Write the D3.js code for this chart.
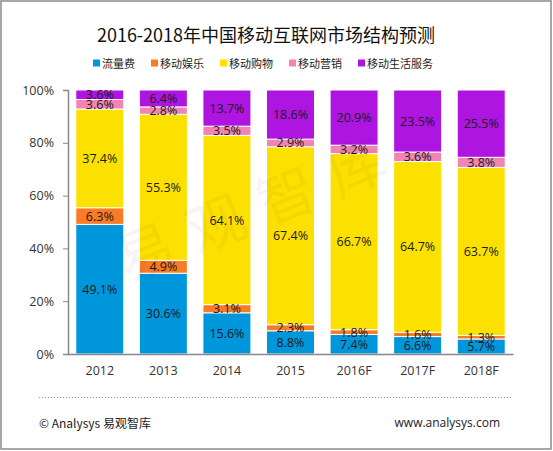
<!DOCTYPE html>
<html>
<head>
<meta charset="utf-8">
<script src="https://cdn.jsdelivr.net/npm/d3@7"></script>
<style>
  html, body { margin: 0; padding: 0; background: #fff; }
  svg { display: block; }
  text { font-family: "Open Sans", "Noto Sans CJK SC", sans-serif; }
</style>
</head>
<body>
<svg id="chart" width="553" height="451"></svg>
<script>
const categories = ["2012", "2013", "2014", "2015", "2016F", "2017F", "2018F"];
const seriesNames = ["流量费", "移动娱乐", "移动购物", "移动营销", "移动生活服务"];
const seriesColors = ["#0096DC", "#FA7B24", "#FCE100", "#F184B0", "#AE15E0"];
const flowFee      = [49.1, 30.6, 15.6, 8.8, 7.4, 6.6, 5.7];
const entertainment = [6.3, 4.9, 3.1, 2.3, 1.8, 1.6, 1.3];
const shopping     = [37.4, 55.3, 64.1, 67.4, 66.7, 64.7, 63.7];
const marketing    = [3.6, 2.8, 3.5, 2.9, 3.2, 3.6, 3.8];
const lifeService  = [3.6, 6.4, 13.7, 18.6, 20.9, 23.5, 25.5];
const yTicks = [0, 20, 40, 60, 80, 100];
const titleText = "2016-2018年中国移动互联网市场结构预测";
const watermarkText = "易观智库";
const footerLeft = "© Analysys 易观智库";
const footerRight = "www.analysys.com";

const seriesValues = [flowFee, entertainment, shopping, marketing, lifeService];
const table = categories.map((c, i) => {
  const row = { cat: c };
  seriesNames.forEach((s, j) => row[s] = seriesValues[j][i]);
  return row;
});
const stacked = d3.stack().keys(seriesNames)(table);

const svg = d3.select("#chart");

// border
svg.append("rect").attr("x", 1).attr("y", 1).attr("width", 550).attr("height", 448)
  .attr("fill", "#fff").attr("stroke", "#8a8a8a").attr("stroke-width", 1.5);

const x = d3.scaleBand().domain(categories).range([68, 513]).paddingInner(0.245).paddingOuter(0.1225);
const y = d3.scaleLinear().domain([0, 100]).range([354, 90]);

// bars
const g = svg.append("g");
g.selectAll("g.series").data(stacked).join("g")
  .attr("class", "series")
  .attr("fill", (d, i) => seriesColors[i])
  .selectAll("rect").data(d => d).join("rect")
  .attr("x", d => x(d.data.cat))
  .attr("width", x.bandwidth())
  .attr("y", d => y(d[1]))
  .attr("height", d => y(d[0]) - y(d[1]))
  .attr("stroke", "#fff").attr("stroke-width", 1);

// watermark
svg.append("text")
  .attr("transform", "translate(258,203) rotate(-22)")
  .attr("text-anchor", "middle").attr("dominant-baseline", "central")
  .attr("font-size", 58).attr("letter-spacing", 18)
  .attr("fill", "#000").attr("fill-opacity", 0.04)
  .style("font-family", "'Noto Sans CJK SC'")
  .text(watermarkText);

// labels
const lg = svg.append("g");
stacked.forEach((s) => {
  lg.selectAll(null).data(s).join("text")
    .attr("x", d => x(d.data.cat) + x.bandwidth() / 2)
    .attr("y", d => (y(d[0]) + y(d[1])) / 2)
    .attr("text-anchor", "middle").attr("dominant-baseline", "central")
    .attr("font-size", 12.5).attr("fill", "#1a1a1a")
    .text(d => d3.format(".1f")(d[1] - d[0]) + "%");
});

// y axis
const yAxis = svg.append("g").attr("transform", "translate(68,0)")
  .call(d3.axisLeft(y).tickValues(yTicks).tickFormat(d => d + "%").tickSize(5).tickPadding(9));
yAxis.select(".domain").attr("stroke", "#888").attr("stroke-width", 1.5);
yAxis.selectAll(".tick line").attr("stroke", "#888");
yAxis.selectAll(".tick text").attr("font-size", 12.5).attr("fill", "#333")
  .style("font-family", "'Open Sans', sans-serif");

// x axis
const xAxis = svg.append("g").attr("transform", "translate(0,354)")
  .call(d3.axisBottom(x).tickSize(0).tickPadding(12).tickSizeOuter(0));
xAxis.select(".domain").attr("stroke", "#888").attr("stroke-width", 1.5);
xAxis.selectAll(".tick text").attr("font-size", 12.5).attr("fill", "#333")
  .style("font-family", "'Open Sans', sans-serif");

// title
svg.append("text").attr("x", 266).attr("y", 34)
  .attr("text-anchor", "middle").attr("dominant-baseline", "central")
  .attr("font-size", 18).attr("fill", "#111")
  .style("font-family", "'Noto Sans CJK SC', sans-serif")
  .text(titleText);

// legend
let lx = 93;
seriesNames.forEach((name, i) => {
  svg.append("rect").attr("x", lx).attr("y", 59.5).attr("width", 7).attr("height", 7)
    .attr("fill", seriesColors[i]);
  const t = svg.append("text").attr("x", lx + 9).attr("y", 63)
    .attr("dominant-baseline", "central").attr("font-size", 11).attr("fill", "#222")
    .style("font-family", "'Noto Sans CJK SC', sans-serif")
    .text(name);
  lx = lx + 9 + t.node().getComputedTextLength() + 16;
});

// footer
svg.append("line").attr("x1", 39).attr("x2", 511).attr("y1", 397.5).attr("y2", 397.5)
  .attr("stroke", "#999").attr("stroke-dasharray", "1,2");
svg.append("text").attr("x", 39).attr("y", 422).attr("dominant-baseline", "central")
  .attr("font-size", 12).attr("fill", "#222")
  .style("font-family", "'Noto Sans CJK SC', sans-serif")
  .text(footerLeft);
svg.append("text").attr("x", 500).attr("y", 422).attr("dominant-baseline", "central")
  .attr("text-anchor", "end").attr("font-size", 12).attr("fill", "#222")
  .style("font-family", "'Open Sans', sans-serif")
  .text(footerRight);
</script>
</body>
</html>
